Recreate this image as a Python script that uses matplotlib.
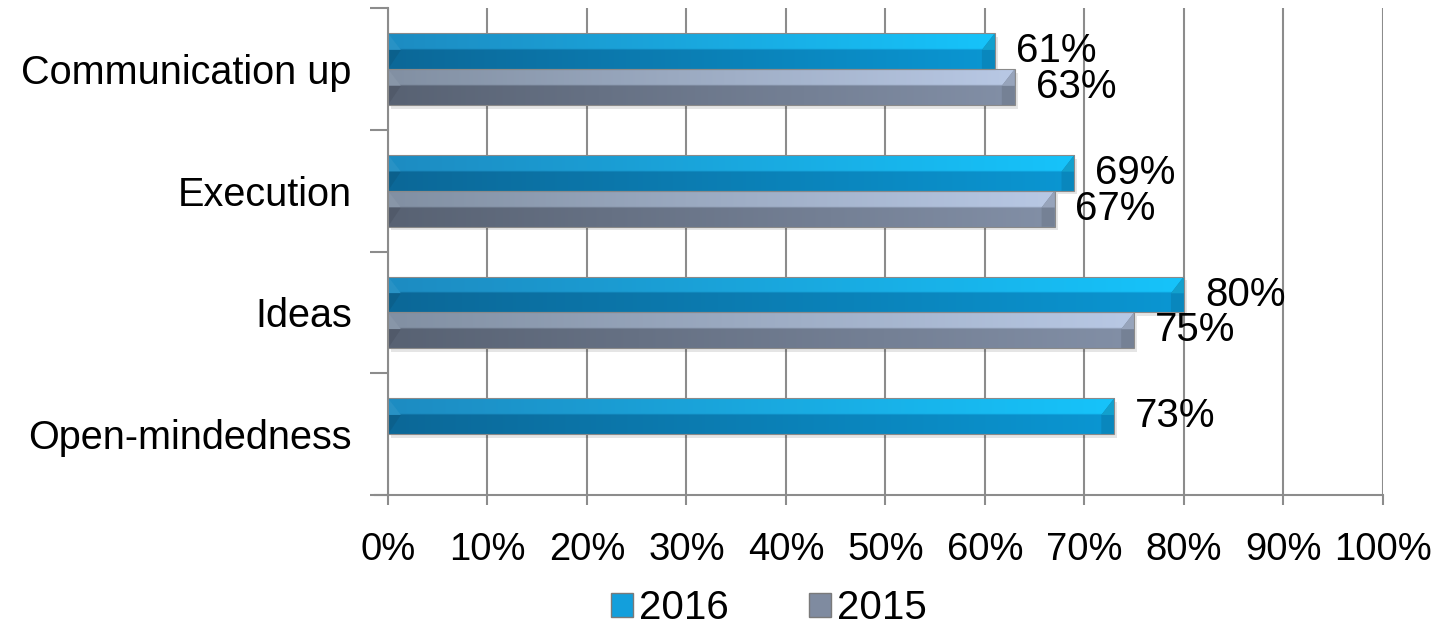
import matplotlib.pyplot as plt
import matplotlib.colors as mcolors
from matplotlib.patches import Polygon, Rectangle
import numpy as np

plt.rcParams['font.family'] = ['Liberation Sans', 'DejaVu Sans']

# top-to-bottom order
categories = ['Communication up', 'Execution', 'Ideas', 'Open-mindedness']
series = ['2016', '2015']
values_2016 = [61, 69, 80, 73]
values_2015 = [63, 67, 75, np.nan]
xticks = list(range(0, 101, 10))

# (top-half left, top-half right, bottom-half left, bottom-half right)
shades = {
    '2016': ('#1d8cc2', '#16c3fa', '#0c6898', '#0a96d2'),
    '2015': ('#8290a3', '#b8c8e4', '#586273', '#828fa6'),
}
bar_h = 0.295


def rgb(c):
    return np.array(mcolors.to_rgb(c))


def gradient(c_left, c_right, n=64):
    a, b = rgb(c_left), rgb(c_right)
    t = np.linspace(0, 1, n)[:, None]
    return a + (b - a) * t


def bevel_bar(ax, y, w, name):
    tl, tr, bl, br = shades[name]
    y0, y1 = y - bar_h / 2, y + bar_h / 2
    ym = y + 0.01
    # soft drop shadow
    ax.add_patch(Rectangle((0.3, y0 - 0.03), w, bar_h, facecolor='black',
                           alpha=0.10, edgecolor='none', zorder=2))
    bar = ax.barh(y, w, height=bar_h, color=br, edgecolor='none', zorder=3)[0]
    img = np.zeros((20, 64, 3))
    img[:9] = gradient(tl, tr)[None, :, :]
    img[9:] = gradient(bl, br)[None, :, :]
    im = ax.imshow(img, extent=(0, w, y0, y1), aspect='auto',
                   interpolation='bilinear', origin='upper', zorder=3.5)
    im.set_clip_path(bar)
    b = 1.3
    # left end cap
    ax.add_patch(Polygon([(0, y1), (b, ym), (0, ym)], closed=True,
                         facecolor=rgb(tl) * 0.95 + 0.05, edgecolor='none',
                         zorder=4))
    ax.add_patch(Polygon([(0, ym), (b, ym), (0, y0)], closed=True,
                         facecolor=rgb(bl) * 0.92, edgecolor='none', zorder=4))
    # right end cap
    ax.add_patch(Polygon([(w, y1), (w - b, ym), (w - b, y0), (w, y0)],
                         closed=True, facecolor=rgb(br) * 0.9,
                         edgecolor='none', zorder=4))
    ax.add_patch(Polygon([(w, y1), (w - b, ym), (w, ym)], closed=True,
                         facecolor=rgb(tr) * 0.82, edgecolor='none', zorder=4))
    ax.add_patch(Rectangle((0, y0), w, bar_h, facecolor='none',
                           edgecolor='#8a8a8a', linewidth=0.8, zorder=5))


fig = plt.figure(figsize=(14.45, 6.35), dpi=100)
ax = fig.add_axes([0.2685, 0.2205, 0.957 - 0.2685, 0.987 - 0.2205])

ypos = np.arange(len(categories))[::-1].astype(float)
for i, y in enumerate(ypos):
    for name, vals, off in (('2016', values_2016, bar_h / 2),
                            ('2015', values_2015, -bar_h / 2)):
        v = vals[i]
        if np.isnan(v):
            continue
        bevel_bar(ax, y + off, v, name)
        ax.text(v + 2.1, y + off, f'{v:.0f}%', fontsize=29,
                va='center', ha='left', zorder=6)

ax.set_xlim(0, 100)
ax.set_ylim(-0.5, len(categories) - 0.5)
ax.set_xticks(xticks)
ax.set_xticklabels([f'{t}%' for t in xticks], fontsize=27.5)
ax.set_yticks(ypos)
ax.set_yticklabels(categories, fontsize=28.5)
ax.set_yticks(np.arange(-0.5, len(categories), 1.0), minor=True)
ax.tick_params(axis='y', which='major', length=0, pad=26)
ax.tick_params(axis='y', which='minor', length=13, width=1.5,
               color='#8c8c8c')
ax.tick_params(axis='x', which='major', length=7, width=1.5,
               color='#8c8c8c', pad=20)
ax.grid(axis='x', color='#8c8c8c', linewidth=1.5, zorder=0)
ax.set_axisbelow(True)
for s in ('top', 'right'):
    ax.spines[s].set_visible(False)
for s in ('left', 'bottom'):
    ax.spines[s].set_color('#8c8c8c')
    ax.spines[s].set_linewidth(1.5)
ax.spines['bottom'].set_bounds(-1.3, 100)

# legend
handles = [Rectangle((0, 0), 1, 1, facecolor=c, edgecolor='#7a7a7a')
           for c in ('#139fdc', '#7f8ba0')]
fig.legend(handles, series, loc='center', bbox_to_anchor=(0.532, 0.042),
           ncol=2, frameon=False, fontsize=29, handlelength=0.55,
           handleheight=0.55, handletextpad=0.15, columnspacing=2.0)

fig.savefig('out.png', dpi=100)
